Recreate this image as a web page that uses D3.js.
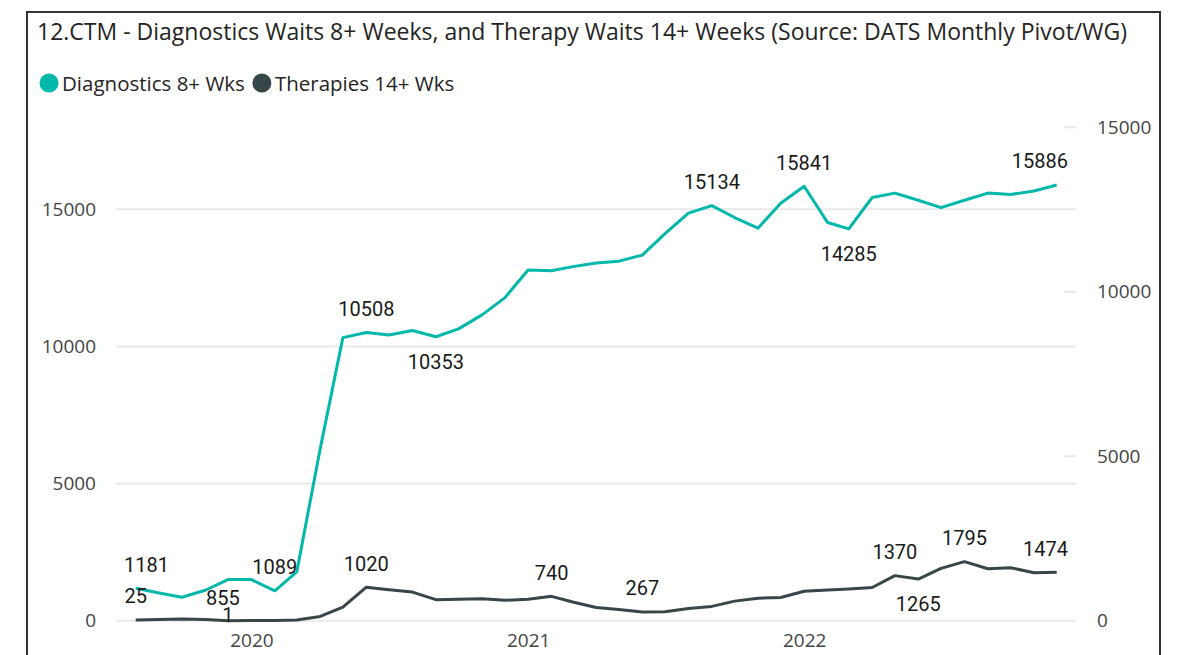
<!DOCTYPE html>
<html>
<head>
<meta charset="utf-8">
<script src="https://cdn.jsdelivr.net/npm/d3@7"></script>
<style>
  body { margin: 0; background: #fff; }
  svg { display: block; }
</style>
</head>
<body>
<svg id="chart" width="1193" height="655"></svg>
<script>
// monthly points, Aug 2019 .. Dec 2022
const startMonth = new Date(2019, 7, 1);
const diagnostics = [
  1181, 1010, 855, 1110, 1500, 1500, 1089, 1780, 6270, 10320,
  10508, 10420, 10580, 10353, 10640, 11150, 11770, 12790, 12760, 12910,
  13040, 13110, 13330, 14110, 14860, 15134, 14700, 14310, 15220, 15841,
  14520, 14285, 15430, 15590, 15330, 15060, 15330, 15590, 15540, 15670,
  15886
];
const therapies = [
  25, 40, 55, 35, 1, 5, 8, 20, 130, 410,
  1020, 940, 870, 640, 655, 665, 620, 650, 740, 570,
  400, 340, 267, 275, 370, 435, 595, 685, 705, 895,
  935, 965, 1010, 1370, 1265, 1590, 1795, 1580, 1610, 1460,
  1474
];
const leftTicks = [0, 5000, 10000, 15000];
const rightTicks = [0, 5000, 10000, 15000];
const yearTicks = [2020, 2021, 2022];
const seriesNames = ['Diagnostics 8+ Wks', 'Therapies 14+ Wks'];

// which points carry a data label
const diagLabelIdx = [0, 2, 6, 10, 13, 25, 29, 31, 40];
const therLabelIdx = [0, 4, 10, 18, 22, 33, 34, 36, 40];

const months = diagnostics.map((_, i) => d3.timeMonth.offset(startMonth, i));

const COLORS = { diag: '#01B8AA', ther: '#374649', grid: '#e9e9e9', axis: '#444' };
const uiFont = '"Open Sans", "Noto Sans", sans-serif';
const labelFont = 'Roboto, "DejaVu Sans", sans-serif';

const svg = d3.select('#chart');

// outer frame
svg.append('rect')
  .attr('x', 27).attr('y', 12)
  .attr('width', 1133).attr('height', 700)
  .attr('fill', 'none')
  .attr('stroke', '#333')
  .attr('stroke-width', 2);

svg.append('text')
  .attr('x', 37).attr('y', 40)
  .attr('font-family', uiFont)
  .attr('font-size', 23)
  .attr('fill', '#252423')
  .text('12.CTM - Diagnostics Waits 8+ Weeks, and Therapy Waits 14+ Weeks (Source: DATS Monthly Pivot/WG)');

// legend
const legend = svg.append('g').attr('transform', 'translate(40, 83)');
let lx = 0;
seriesNames.forEach((name, i) => {
  const g = legend.append('g').attr('transform', `translate(${lx}, 0)`);
  g.append('circle')
    .attr('cx', 9).attr('cy', 0).attr('r', 9.5)
    .attr('fill', i === 0 ? COLORS.diag : COLORS.ther);
  const t = g.append('text')
    .attr('x', 22).attr('y', 0)
    .attr('dominant-baseline', 'central')
    .attr('font-family', uiFont)
    .attr('font-size', 20.5)
    .attr('fill', '#252423')
    .text(name);
  lx += 22 + t.node().getComputedTextLength() + 8;
});

// scales
const x = d3.scaleTime()
  .domain([months[0], months[months.length - 1]])
  .range([135.7, 1056.7]);
const yL = d3.scaleLinear().domain([0, 15000]).range([620.7, 209.3]);
const yR = d3.scaleLinear().domain([0, 15000]).range([620.7, 127.3]);

const plotLeft = 116, plotRight = 1076;

// gridlines from left axis
svg.append('g').selectAll('line')
  .data(leftTicks)
  .join('line')
  .attr('x1', plotLeft).attr('x2', plotRight)
  .attr('y1', d => yL(d)).attr('y2', d => yL(d))
  .attr('stroke', COLORS.grid)
  .attr('stroke-width', 2);

// short stubs for right axis
svg.append('g').selectAll('line')
  .data(rightTicks.filter(d => d > 0))
  .join('line')
  .attr('x1', plotRight - 12).attr('x2', plotRight)
  .attr('y1', d => yR(d)).attr('y2', d => yR(d))
  .attr('stroke', COLORS.grid)
  .attr('stroke-width', 2);

// axes text
const leftAxis = d3.axisLeft(yL).tickValues(leftTicks).tickSize(0).tickPadding(0).tickFormat(d3.format('d'));
svg.append('g')
  .attr('transform', 'translate(96, 0)')
  .call(leftAxis)
  .call(g => g.select('.domain').remove())
  .call(g => g.selectAll('text')
    .attr('font-family', uiFont).attr('font-size', 19).attr('fill', COLORS.axis));

const rightAxis = d3.axisRight(yR).tickValues(rightTicks).tickSize(0).tickPadding(0).tickFormat(d3.format('d'));
svg.append('g')
  .attr('transform', 'translate(1097, 0)')
  .call(rightAxis)
  .call(g => g.select('.domain').remove())
  .call(g => g.selectAll('text')
    .attr('font-family', uiFont).attr('font-size', 19).attr('fill', COLORS.axis));

const xAxis = d3.axisBottom(x)
  .tickValues(yearTicks.map(yr => new Date(yr, 0, 1)))
  .tickSize(0).tickPadding(0)
  .tickFormat(d3.timeFormat('%Y'));
svg.append('g')
  .attr('transform', 'translate(0, 633)')
  .call(xAxis)
  .call(g => g.select('.domain').remove())
  .call(g => g.selectAll('text')
    .attr('font-family', uiFont).attr('font-size', 19).attr('fill', COLORS.axis));

// lines
const diagLine = d3.line().x((d, i) => x(months[i])).y(d => yL(d));
const therLine = d3.line().x((d, i) => x(months[i])).y(d => yR(d));

svg.append('path')
  .datum(diagnostics)
  .attr('d', diagLine)
  .attr('fill', 'none')
  .attr('stroke', COLORS.diag)
  .attr('stroke-width', 3)
  .attr('stroke-linejoin', 'round');

svg.append('path')
  .datum(therapies)
  .attr('d', therLine)
  .attr('fill', 'none')
  .attr('stroke', COLORS.ther)
  .attr('stroke-width', 3)
  .attr('stroke-linejoin', 'round');

// data labels: above by default, a few below, two nudged the way the source nudged them
const below = new Set(['d2', 'd13', 'd31', 't34']);
const nudge = { d2: { dx: 41, dy: 8 }, t4: { dx: 0, dy: 1 } };

function addLabels(values, idxs, yScale, key) {
  const g = svg.append('g');
  idxs.forEach(i => {
    const id = key + i;
    const px = x(months[i]);
    const py = yScale(values[i]);
    const t = g.append('text')
      .attr('font-family', labelFont)
      .attr('font-size', 20)
      .attr('fill', '#1a1a1a')
      .attr('text-anchor', 'middle')
      .text(values[i]);
    const w = t.node().getComputedTextLength();
    let cx = px;
    let by = below.has(id) ? py + 32 : py - 16.5;
    if (nudge[id]) {
      cx += nudge[id].dx;
      by = py + nudge[id].dy;
    }
    // keep labels inside the plot
    cx = Math.max(124 + w / 2, Math.min(1068 - w / 2, cx));
    t.attr('x', cx).attr('y', by);
  });
}

addLabels(diagnostics, diagLabelIdx, yL, 'd');
addLabels(therapies, therLabelIdx, yR, 't');
</script>
</body>
</html>
